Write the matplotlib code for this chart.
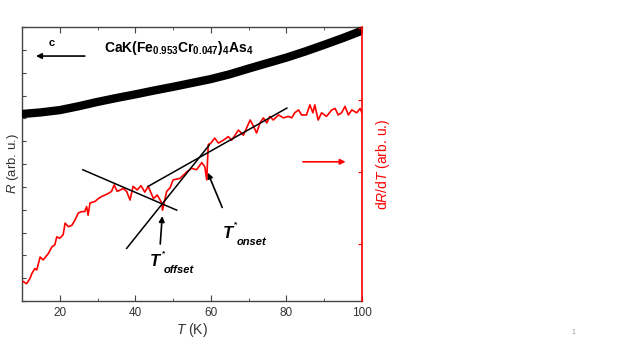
import matplotlib
matplotlib.use("Agg")
import matplotlib.pyplot as plt
from matplotlib.transforms import offset_copy

plt.rcParams['font.family'] = ['Liberation Sans', 'DejaVu Sans']
plt.rcParams['mathtext.fontset'] = 'custom'
plt.rcParams['mathtext.rm'] = 'Liberation Sans'
plt.rcParams['mathtext.it'] = 'Liberation Sans:italic'
plt.rcParams['mathtext.bf'] = 'Liberation Sans:bold'

# Resistance (left axis, arb. u.)
r_temp = [10, 15, 20, 25, 30, 35, 40, 45, 50, 55, 60, 65, 70, 75, 80, 85, 90, 95, 100]
r_vals = [8.19, 8.26, 8.36, 8.53, 8.72, 8.89, 9.05, 9.22, 9.38, 9.55, 9.72, 9.93,
          10.18, 10.42, 10.66, 10.93, 11.22, 11.52, 11.84]

# dR/dT (right axis, arb. u.)
d_temp = [10.3, 11.2, 12.1, 12.6, 13.4, 13.9, 14.8, 15.6, 17.0, 17.9, 18.7, 19.2, 20.0,
          20.9, 21.4, 22.3, 23.2, 24.0, 24.9, 25.8, 26.6, 27.1, 27.5, 28.0, 29.3, 30.2,
          31.1, 32.0, 32.8, 33.7, 34.4, 35.2, 36.0, 36.8, 37.7, 38.6, 39.4, 40.5, 41.5,
          42.5, 43.4, 44.8, 45.8, 47.0, 47.2, 48.3, 49.2, 50.0, 51.8, 53.6, 54.9, 56.2,
          57.6, 58.4, 58.9, 59.3, 60.0, 61.0, 62.0, 63.3, 64.6, 65.5, 67.3, 68.6, 70.4,
          71.3, 72.1, 73.0, 73.9, 74.8, 75.6, 76.5, 77.9, 79.2, 80.5, 81.4, 82.2, 83.2,
          84.0, 85.3, 86.2, 87.0, 87.5, 88.4, 89.3, 90.6, 92.0, 92.9, 93.7, 94.6, 95.5,
          96.4, 97.3, 98.6, 99.5, 100.0]
d_vals = [-0.52, -0.55, -0.48, -0.41, -0.34, -0.36, -0.18, -0.22, -0.13, -0.04, -0.01,
          0.10, 0.08, 0.13, 0.29, 0.24, 0.26, 0.33, 0.43, 0.45, 0.45, 0.52, 0.40, 0.57,
          0.59, 0.63, 0.66, 0.68, 0.70, 0.73, 0.82, 0.73, 0.75, 0.77, 0.73, 0.61, 0.80,
          0.75, 0.81, 0.72, 0.80, 0.63, 0.68, 0.57, 0.47, 0.73, 0.78, 0.89, 0.91, 1.00,
          1.05, 1.03, 1.13, 1.07, 0.89, 1.38, 1.40, 1.47, 1.40, 1.44, 1.49, 1.44, 1.58,
          1.51, 1.72, 1.63, 1.54, 1.68, 1.75, 1.68, 1.77, 1.72, 1.79, 1.75, 1.77, 1.75,
          1.82, 1.86, 1.79, 1.79, 1.93, 1.82, 1.93, 1.72, 1.82, 1.77, 1.86, 1.88, 1.79,
          1.82, 1.91, 1.79, 1.86, 1.82, 1.88, 1.82]

# tangent lines (in dR/dT units)
tan1_t, tan1_v = [26.1, 50.95], [1.03, 0.47]
tan2_t, tan2_v = [37.7, 59.6], [-0.06, 1.375]
tan3_t, tan3_v = [43.4, 80.1], [0.80, 1.885]

x_ticks = [20, 40, 60, 80, 100]

fig = plt.figure(figsize=(6.23, 3.5), dpi=100)
ax = fig.add_axes([22/623, 1-301/350, 340/623, 274/350])
ax2 = ax.twinx()

ax.plot(r_temp, r_vals, color='black', lw=6, solid_capstyle='butt', zorder=3)
ax.set_xlim(10, 100)
ax.set_ylim(0, 12)
ax.set_yticks(range(0, 13))
ax.set_yticklabels([])
ax.set_xticks(x_ticks)
ax.set_xticks(range(10, 101, 10), minor=True)
ax.tick_params(axis='x', which='major', direction='in', length=4, top=True,
               labelsize=8.5, labelcolor='#333333', color='#444444', pad=4)
ax.tick_params(axis='x', which='minor', direction='in', length=2.5, top=True, color='#444444')
ax.tick_params(axis='y', which='both', direction='in', length=3, color='#444444', right=False)
for s in ['left', 'bottom', 'top']:
    ax.spines[s].set_color('#444444')
    ax.spines[s].set_linewidth(1.0)
ax.spines['right'].set_visible(False)
ax.set_xlabel(r'$T$ (K)', fontsize=10, color='#333333', labelpad=2)
ax.set_ylabel(r'$R$ (arb. u.)', fontsize=9.5, color='#333333')
ax.yaxis.set_label_coords(-0.004, 0.5)

ax2.plot(d_temp, d_vals, color='red', lw=1.2)
for tt, vv in [(tan1_t, tan1_v), (tan2_t, tan2_v), (tan3_t, tan3_v)]:
    ax2.plot(tt, vv, color='black', lw=1.1)
ax2.set_ylim(-0.79, 3.01)
ax2.set_yticks([0, 1, 2, 3])
ax2.set_yticklabels([])
ax2.tick_params(axis='y', direction='in', length=3, color='red')
ax2.spines['right'].set_color('red')
ax2.spines['right'].set_linewidth(1.2)
for s in ['left', 'bottom', 'top']:
    ax2.spines[s].set_visible(False)
ax2.set_ylabel(r'd$R$/d$T$ (arb. u.)', fontsize=10, color='red', labelpad=5)

tr = ax.transAxes
ax.text(0.087, 0.94, 'c', transform=tr, fontsize=8, fontweight='bold', ha='center', va='center')
ax.annotate('', xy=(0.033, 0.894), xytext=(0.193, 0.894), xycoords=tr, textcoords=tr,
            arrowprops=dict(arrowstyle='-|>', color='black', lw=1.2, mutation_scale=8))
ax.text(0.241, 0.923,
        r'CaK(Fe$_{\mathbf{0.953}}$Cr$_{\mathbf{0.047}}$)$_{\mathbf{4}}$As$_{\mathbf{4}}$',
        transform=tr, fontsize=10, fontweight='bold', ha='left', va='center')
ax.annotate('', xy=(0.960, 0.508), xytext=(0.818, 0.508), xycoords=tr, textcoords=tr,
            arrowprops=dict(arrowstyle='-|>', color='red', lw=1.2, mutation_scale=8))
ax.annotate('', xy=(0.413, 0.320), xytext=(0.406, 0.198), xycoords=tr, textcoords=tr,
            arrowprops=dict(arrowstyle='-|>', color='black', lw=1.2, mutation_scale=8))
ax.annotate('', xy=(0.543, 0.478), xytext=(0.592, 0.332), xycoords=tr, textcoords=tr,
            arrowprops=dict(arrowstyle='-|>', color='black', lw=1.2, mutation_scale=8))


def tlabel(x, y, sub):
    ax.text(x, y, 'T', transform=tr, fontsize=12, fontweight='bold', fontstyle='italic',
            ha='left', va='center')
    ax.text(x, y, '*', transform=offset_copy(tr, fig=fig, x=8.5, y=6, units='points'),
            fontsize=6, fontweight='bold', ha='left', va='center')
    ax.text(x, y, sub, transform=offset_copy(tr, fig=fig, x=10, y=-6, units='points'),
            fontsize=8, fontweight='bold', fontstyle='italic', ha='left', va='center')


tlabel(0.376, 0.143, 'offset')
tlabel(0.590, 0.247, 'onset')

fig.text(573/623, 1-333/350, '1', fontsize=5, color='#999999', ha='center', va='center')

fig.savefig('out.png', dpi=100)
